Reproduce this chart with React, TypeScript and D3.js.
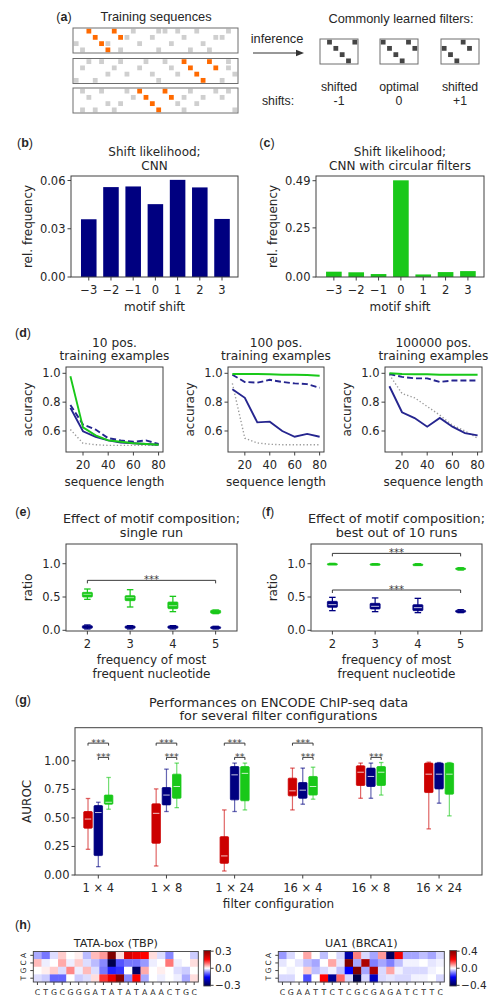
import React from "react";
import * as d3 from "d3";

// ---------------- DATA ----------------
// (a) illustration
const motifOffsets: [number, number][] = [[0, 0], [1, 1], [2, 2], [3, 3], [0, 4], [1, 5]];
const motifStarts = [2, 17, 10];
const seq1Background: [number, number][] = [[0, 9], [0, 13], [0, 14], [0, 16], [0, 19], [0, 24], [1, 8], [1, 12], [1, 17], [1, 22], [1, 23], [2, 0], [2, 5], [2, 10], [2, 15], [2, 20], [3, 1], [3, 7], [3, 13], [3, 18], [3, 21]];
const seq2Background: [number, number][] = [[0, 2], [0, 4], [0, 7], [0, 11], [0, 14], [0, 24], [1, 1], [1, 6], [1, 10], [1, 15], [1, 24], [2, 5], [2, 8], [2, 12], [2, 16], [2, 25], [3, 0], [3, 3], [3, 13], [3, 23]];
const seq3Background: [number, number][] = [[0, 1], [0, 4], [0, 8], [0, 18], [0, 22], [0, 24], [1, 2], [1, 9], [1, 17], [1, 20], [1, 23], [2, 5], [2, 7], [2, 16], [2, 19], [3, 1], [3, 3], [3, 6], [3, 17], [3, 25]];
const filterShifts = [-1, 0, 1];
const filterNames = ["shifted", "optimal", "shifted"];
const shiftLabels = ["-1", "0", "+1"];

// (b), (c)
const motifShifts = [-3, -2, -1, 0, 1, 2, 3];
const shiftFreqCnn = [0.0359, 0.0559, 0.0563, 0.0453, 0.0604, 0.0557, 0.0361];
const shiftFreqCircular = [0.027, 0.024, 0.015, 0.492, 0.013, 0.025, 0.03];
const freqTicksB = [0, 0.03, 0.06];
const freqTicksC = [0, 0.25, 0.49];

// (d)
const seqLengths = [10, 20, 30, 40, 50, 60, 70, 80];
const lengthTicks = [20, 40, 60, 80];
const accuracyTicks = [0.6, 0.8, 1.0];
const pos10Circular = [0.98, 0.625, 0.57, 0.535, 0.525, 0.515, 0.51, 0.505];
const pos10Cnn = [0.76, 0.598, 0.56, 0.535, 0.52, 0.515, 0.51, 0.505];
const pos10CnnDashed = [0.78, 0.645, 0.61, 0.55, 0.535, 0.525, 0.535, 0.51];
const pos10Dotted = [0.61, 0.515, 0.505, 0.5, 0.5, 0.5, 0.5, 0.5];
const pos100Circular = [0.995, 0.995, 0.995, 0.993, 0.99, 0.99, 0.988, 0.983];
const pos100Cnn = [0.89, 0.83, 0.66, 0.665, 0.6, 0.56, 0.58, 0.56];
const pos100CnnDashed = [0.99, 0.94, 0.935, 0.955, 0.94, 0.93, 0.925, 0.9];
const pos100Dotted = [0.93, 0.55, 0.517, 0.508, 0.505, 0.505, 0.505, 0.505];
const pos100kCircular = [1.0, 0.995, 0.993, 0.993, 0.99, 0.99, 0.99, 0.99];
const pos100kCnn = [0.91, 0.73, 0.69, 0.63, 0.69, 0.63, 0.585, 0.57];
const pos100kCnnDashed = [0.995, 0.975, 0.965, 0.965, 0.94, 0.95, 0.95, 0.95];
const pos100kDotted = [0.99, 0.86, 0.83, 0.77, 0.71, 0.64, 0.6, 0.55];

// (e), (f)  [whiskerLow, q1, median, q3, whiskerHigh]
const compositionFreqs = [2, 3, 4, 5];
const ratioTicks = [0, 0.5, 1.0];
const singleRunCircular = [[0.465, 0.5, 0.54, 0.57, 0.62], [0.35, 0.445, 0.49, 0.52, 0.61], [0.28, 0.325, 0.37, 0.425, 0.51], [0.25, 0.255, 0.275, 0.3, 0.305]];
const singleRunCnn = [[0.02, 0.03, 0.05, 0.07, 0.08], [0.02, 0.03, 0.045, 0.065, 0.07], [0.02, 0.03, 0.045, 0.065, 0.07], [0.02, 0.025, 0.04, 0.055, 0.06]];
const bestRunCircular = [[0.995, 0.997, 1.0, 1.003, 1.005], [0.985, 0.99, 0.995, 1.0, 1.0], [0.975, 0.98, 0.988, 0.995, 1.0], [0.905, 0.912, 0.922, 0.935, 0.94]];
const bestRunCnn = [[0.295, 0.345, 0.385, 0.435, 0.495], [0.28, 0.32, 0.36, 0.405, 0.486], [0.265, 0.295, 0.34, 0.385, 0.48], [0.265, 0.27, 0.285, 0.3, 0.31]];

// (g)
const filterConfigs = ["1 × 4", "1 × 8", "1 × 24", "16 × 4", "16 × 8", "16 × 24"];
const aurocTicks = [0, 0.25, 0.5, 0.75, 1.0];
const aurocRed = [[0.225, 0.41, 0.49, 0.556, 0.67], [0.079, 0.278, 0.54, 0.623, 0.754], [0.035, 0.102, 0.167, 0.336, 0.57], [0.57, 0.693, 0.737, 0.848, 0.936], [0.672, 0.784, 0.9, 0.956, 0.98], [0.404, 0.722, 0.883, 0.98, 0.988]];
const aurocBlue = [[0.073, 0.17, 0.547, 0.608, 0.637], [0.556, 0.614, 0.7, 0.766, 0.927], [0.556, 0.658, 0.877, 0.95, 0.98], [0.62, 0.672, 0.743, 0.81, 0.936], [0.672, 0.775, 0.863, 0.936, 0.98], [0.629, 0.754, 0.883, 0.98, 0.985]];
const aurocGreen = [[0.576, 0.62, 0.637, 0.7, 0.854], [0.59, 0.672, 0.775, 0.883, 0.98], [0.57, 0.65, 0.89, 0.95, 0.98], [0.664, 0.7, 0.775, 0.863, 0.944], [0.7, 0.784, 0.9, 0.95, 0.985], [0.518, 0.708, 0.883, 0.98, 0.985]];
const sigRedGreen = ["***", "***", "***", "***", "", ""];
const sigBlueGreen = ["***", "***", "**", "***", "***", ""];

// (h)
const nucleotides = ["A", "C", "G", "T"];
const tataSequence = "CTGCGGGATATATAAACTGC".split("");
const tataA = [-0.05, -0.08, -0.02, 0.03, 0.0, 0.01, -0.04, 0.04, 0.06, 0.3, 0.02, 0.2, 0.17, 0.15, 0.02, -0.02, -0.07, 0.0, 0.0, -0.03];
const tataC = [0.04, -0.01, 0.0, 0.05, -0.01, 0.03, -0.02, -0.04, -0.07, -0.3, -0.1, -0.08, -0.08, -0.06, -0.01, 0.0, 0.08, -0.01, 0.0, 0.02];
const tataG = [0.0, 0.01, 0.03, -0.02, 0.07, -0.01, 0.04, -0.02, -0.08, -0.13, -0.12, 0.0, -0.28, 0.05, 0.0, 0.01, 0.0, -0.02, -0.03, 0.0];
const tataT = [-0.02, -0.03, -0.09, -0.09, 0.0, -0.03, -0.02, 0.02, 0.12, 0.17, 0.29, -0.07, 0.15, -0.05, 0.0, -0.01, 0.0, -0.01, -0.05, 0.02];
const ua1Sequence = "CGAATTCTCGCGAGATCTTC".split("");
const ua1A = [-0.08, -0.03, 0.0, 0.07, 0.0, -0.05, 0.0, -0.03, -0.3, 0.1, -0.03, -0.07, 0.08, -0.38, 0.22, -0.07, -0.07, -0.05, -0.07, -0.03];
const ua1C = [-0.02, 0.0, -0.02, -0.05, -0.07, 0.0, 0.07, -0.02, 0.4, -0.07, 0.33, -0.1, -0.07, -0.1, -0.05, -0.01, -0.01, 0.0, -0.02, -0.01];
const ua1G = [0.0, -0.01, 0.0, 0.04, -0.05, -0.03, -0.01, -0.05, -0.2, 0.4, -0.07, 0.33, -0.03, 0.07, -0.01, -0.03, -0.03, -0.03, -0.01, 0.0];
const ua1T = [-0.03, -0.03, 0.0, -0.14, 0.0, 0.2, -0.32, 0.12, -0.03, -0.4, -0.03, -0.27, -0.03, -0.02, -0.03, -0.03, -0.01, -0.01, 0.0, -0.03];
const tataCbTicks = [-0.3, 0.0, 0.3];
const ua1CbTicks = [-0.4, 0.0, 0.4];

// ---------------- STYLE ----------------
const FONT = "'DejaVu Sans', sans-serif";
const FONT_A = "'Liberation Sans', Arial, sans-serif";
const TXT = "#262626";
const SPINE = "#404040";
const NAVY = "#000080";
const LINE_BLUE = "#25258f";
const GREEN = "#19c819";
const RED = "#cc0000";
const ORANGE = "#ff6a00";
const TICK_FS = 11.5;
const LABEL_FS = 12;

type Sc = (v: number) => number;

function Frame({ x0, x1, y0, y1 }: { x0: number; x1: number; y0: number; y1: number }) {
  return <rect x={x0} y={y0} width={x1 - x0} height={y1 - y0} fill="none" stroke={SPINE} strokeWidth={1} />;
}

function YTicks({ scale, ticks, x, fmt, fs = TICK_FS }: { scale: Sc; ticks: number[]; x: number; fmt: (v: number) => string; fs?: number }) {
  return (
    <g>
      {ticks.map((t) => (
        <g key={t}>
          <line x1={x - 3.5} x2={x} y1={scale(t)} y2={scale(t)} stroke={SPINE} />
          <text x={x - 5.5} y={scale(t)} textAnchor="end" dominantBaseline="central" fontSize={fs} fill={TXT}>{fmt(t)}</text>
        </g>
      ))}
    </g>
  );
}

function XTicks({ scale, ticks, y, labels, fs = TICK_FS }: { scale: Sc; ticks: number[]; y: number; labels: string[]; fs?: number }) {
  return (
    <g>
      {ticks.map((t, i) => (
        <g key={i}>
          <line x1={scale(t)} x2={scale(t)} y1={y} y2={y + 3.5} stroke={SPINE} />
          <text x={scale(t)} y={y + 13} textAnchor="middle" dominantBaseline="central" fontSize={fs} fill={TXT}>{labels[i]}</text>
        </g>
      ))}
    </g>
  );
}

function YLabel({ x, y, text, fs = LABEL_FS }: { x: number; y: number; text: string; fs?: number }) {
  return (
    <text transform={`translate(${x},${y}) rotate(-90)`} textAnchor="middle" dominantBaseline="central" fontSize={fs} fill={TXT}>{text}</text>
  );
}

function Label({ x, y, text, fs = LABEL_FS, anchor = "middle", family, weight }: { x: number; y: number; text: string; fs?: number; anchor?: string; family?: string; weight?: string }) {
  return (
    <text x={x} y={y} textAnchor={anchor as any} dominantBaseline="central" fontSize={fs} fill={TXT} fontFamily={family} fontWeight={weight}>{text}</text>
  );
}

function PanelTag({ x, y, t }: { x: number; y: number; t: string }) {
  return (
    <text x={x} y={y} textAnchor="middle" dominantBaseline="central" fontSize={12.5} fill={TXT} fontFamily={FONT_A}>
      (<tspan fontWeight="bold">{t}</tspan>)
    </text>
  );
}

// ---------------- PANEL A ----------------
function PanelA() {
  const colX = d3.scaleBand<number>().domain(d3.range(26)).range([73, 238]);
  const rowY = d3.scaleBand<number>().domain(d3.range(4)).range([0, 25]);
  const boxTops = [28, 58.5, 88];
  const backgrounds = [seq1Background, seq2Background, seq3Background];
  const sq = 4.8;
  const filterX0 = [320, 380, 441];
  const fx = d3.scaleBand<number>().domain(d3.range(6)).range([0, 38]);
  const fsA = 12.3;
  return (
    <g fontFamily={FONT_A}>
      <PanelTag x={64} y={16.5} t="a" />
      <Label x={156} y={16.5} text="Training sequences" fs={12.8} family={FONT_A} />
      {boxTops.map((top, b) => (
        <g key={b}>
          {backgrounds[b].map(([r, c], i) => (
            <rect key={i} x={(colX(c) as number) + (colX.bandwidth() - sq) / 2} y={top + (rowY(r) as number) + (rowY.bandwidth() - sq) / 2} width={sq} height={sq} fill="#cfcfcf" />
          ))}
          {motifOffsets.map(([r, c], i) => (
            <rect key={"m" + i} x={(colX(motifStarts[b] + c) as number) + (colX.bandwidth() - sq) / 2} y={top + (rowY(r) as number) + (rowY.bandwidth() - sq) / 2} width={sq} height={sq} fill={ORANGE} />
          ))}
          <rect x={73} y={top} width={165} height={25} fill="none" stroke="#6e6e6e" strokeWidth={1} />
        </g>
      ))}
      <Label x={277} y={38.5} text="inference" fs={12.8} family={FONT_A} />
      <line x1={253} x2={298} y1={53} y2={53} stroke="#333" strokeWidth={1.2} />
      <path d="M 304 53 L 296 49.8 L 296 56.2 Z" fill="#333" />
      <Label x={401} y={18} text="Commonly learned filters:" fs={12.8} family={FONT_A} />
      {filterShifts.map((s, k) => {
        const x0 = filterX0[k];
        return (
          <g key={k}>
            {motifOffsets
              .map(([r, c]) => [r, c - s] as [number, number])
              .filter(([, c]) => c >= 0 && c < 6)
              .map(([r, c], i) => (
                <rect key={i} x={x0 + (fx(c) as number) + (fx.bandwidth() - sq) / 2} y={39 + (rowY(r) as number) + (rowY.bandwidth() - sq) / 2} width={sq} height={sq} fill="#454545" />
              ))}
            <rect x={x0} y={39} width={38} height={25} fill="none" stroke="#6e6e6e" strokeWidth={1} />
            <Label x={x0 + 19} y={86.8} text={filterNames[k]} fs={fsA} family={FONT_A} />
            <Label x={x0 + 19} y={100.6} text={shiftLabels[k]} fs={fsA} family={FONT_A} />
          </g>
        );
      })}
      <Label x={278} y={100.6} text="shifts:" fs={fsA} family={FONT_A} />
    </g>
  );
}

// ---------------- PANEL B / C ----------------
function BarPanel({ x0, x1, values, yMax, ticks, color, title2, tag, tagX }: { x0: number; x1: number; values: number[]; yMax: number; ticks: number[]; color: string; title2: string; tag: string; tagX: number }) {
  const y0 = 176, y1 = 277;
  const x = d3.scaleLinear().domain([-3.8, 3.72]).range([x0, x1]);
  const y = d3.scaleLinear().domain([0, yMax]).range([y1, y0]);
  const bw = x(0.35) - x(-0.35);
  const cx = (x0 + x1) / 2;
  return (
    <g>
      <PanelTag x={tagX} y={143} t={tag} />
      <Label x={cx} y={152} text="Shift likelihood;" />
      <Label x={cx} y={165.5} text={title2} />
      {motifShifts.map((s, i) => (
        <rect key={s} x={x(s) - bw / 2} y={y(values[i])} width={bw} height={y1 - y(values[i])} fill={color} />
      ))}
      <Frame x0={x0} x1={x1} y0={y0} y1={y1} />
      <YTicks scale={y} ticks={ticks} x={x0} fmt={d3.format(".2f")} />
      <XTicks scale={x} ticks={motifShifts} y={y1} labels={motifShifts.map(d3.format("d"))} />
      <Label x={cx} y={307} text="motif shift" />
      <YLabel x={x0 - 43} y={(y0 + y1) / 2} text="rel. frequency" />
    </g>
  );
}

// ---------------- PANEL D ----------------
function LinePanel({ x0, x1, title1, series }: { x0: number; x1: number; title1: string; series: number[][] }) {
  const y0 = 367, y1 = 452;
  const x = d3.scaleLinear().domain([6.5, 83.5]).range([x0, x1]);
  const y = d3.scaleLinear().domain([0.4544, 1.0437]).range([y1, y0]);
  const line = d3.line<number>().x((_, i) => x(seqLengths[i])).y((v) => y(v));
  const cx = (x0 + x1) / 2;
  const [circ, cnn, dashed, dotted] = series;
  return (
    <g>
      <Label x={cx} y={342.5} text={title1} fs={12.2} />
      <Label x={cx} y={356.2} text="training examples" fs={12.2} />
      <path d={line(dotted) || ""} fill="none" stroke="#9a9a9a" strokeWidth={1.4} strokeDasharray="1.3,2.2" />
      <path d={line(cnn) || ""} fill="none" stroke={LINE_BLUE} strokeWidth={1.9} />
      <path d={line(dashed) || ""} fill="none" stroke={LINE_BLUE} strokeWidth={1.9} strokeDasharray="6,3" />
      <path d={line(circ) || ""} fill="none" stroke={GREEN} strokeWidth={1.9} />
      <Frame x0={x0} x1={x1} y0={y0} y1={y1} />
      <YTicks scale={y} ticks={accuracyTicks} x={x0} fmt={d3.format(".1f")} />
      <XTicks scale={x} ticks={lengthTicks} y={y1} labels={lengthTicks.map(String)} />
      <Label x={cx} y={482} text="sequence length" />
      <YLabel x={x0 - 38} y={(y0 + y1) / 2} text="accuracy" />
    </g>
  );
}

// ---------------- BOX GLYPH ----------------
function BoxGlyph({ cx, w, capW, stats, y, color, whiskerOpacity = 1, medianColor = "#ffffff" }: { cx: number; w: number; capW: number; stats: number[]; y: Sc; color: string; whiskerOpacity?: number; medianColor?: string }) {
  const [lo, q1, med, q3, hi] = stats;
  const top = y(q3);
  const h = Math.max(y(q1) - top, 1.6);
  return (
    <g>
      <line x1={cx} x2={cx} y1={y(hi)} y2={y(lo)} stroke={color} strokeWidth={1.2} strokeOpacity={whiskerOpacity} />
      <line x1={cx - capW / 2} x2={cx + capW / 2} y1={y(hi)} y2={y(hi)} stroke={color} strokeWidth={1.3} strokeOpacity={whiskerOpacity} />
      <line x1={cx - capW / 2} x2={cx + capW / 2} y1={y(lo)} y2={y(lo)} stroke={color} strokeWidth={1.3} strokeOpacity={whiskerOpacity} />
      <rect x={cx - w / 2} y={top} width={w} height={h} fill={color} stroke={color} strokeWidth={0.8} rx={0.8} />
      {h > 4 && <line x1={cx - w / 2 + 1} x2={cx + w / 2 - 1} y1={y(med)} y2={y(med)} stroke={medianColor} strokeWidth={0.9} strokeOpacity={0.85} />}
    </g>
  );
}

function Bracket({ xa, xb, yl, text, drop = 3, fs = 10 }: { xa: number; xb: number; yl: number; text: string; drop?: number; fs?: number }) {
  return (
    <g>
      <path d={`M ${xa} ${yl + drop} L ${xa} ${yl} L ${xb} ${yl} L ${xb} ${yl + drop}`} fill="none" stroke="#3a3a3a" strokeWidth={1} />
      <text x={(xa + xb) / 2} y={yl + 2.5} textAnchor="middle" fontSize={fs} fill="#3a3a3a">{text}</text>
    </g>
  );
}

// ---------------- PANEL E / F ----------------
function RatioPanel({ x0, x1, tag, tagX, title2, green, blue, brackets }: { x0: number; x1: number; tag: string; tagX: number; title2: string; green: number[][]; blue: number[][]; brackets: number[] }) {
  const y0 = 544, y1 = 631;
  const x = d3.scaleLinear().domain([1.5, 5.5]).range([x0, x1]);
  const y = d3.scaleLinear().domain([-0.0105, 1.296]).range([y1, y0]);
  const cx = (x0 + x1) / 2;
  return (
    <g>
      <PanelTag x={tagX} y={512} t={tag} />
      <Label x={cx} y={518.5} text="Effect of motif composition;" fs={12.8} />
      <Label x={cx} y={532} text={title2} fs={12.8} />
      {compositionFreqs.map((f, i) => (
        <g key={f}>
          <BoxGlyph cx={x(f)} w={10} capW={6.5} stats={blue[i]} y={y} color={NAVY} />
          <BoxGlyph cx={x(f)} w={10} capW={6.5} stats={green[i]} y={y} color={GREEN} medianColor="#b8f0b8" />
        </g>
      ))}
      {brackets.map((b, i) => (
        <Bracket key={i} xa={x(2)} xb={x(5)} yl={y(b)} text="***" />
      ))}
      <Frame x0={x0} x1={x1} y0={y0} y1={y1} />
      <YTicks scale={y} ticks={ratioTicks} x={x0} fmt={d3.format(".1f")} />
      <XTicks scale={x} ticks={compositionFreqs} y={y1} labels={compositionFreqs.map(String)} />
      <Label x={cx} y={660} text="frequency of most" />
      <Label x={cx} y={674} text="frequent nucleotide" />
      <YLabel x={x0 - 38} y={(y0 + y1) / 2} text="ratio" />
    </g>
  );
}

// ---------------- PANEL G ----------------
function AurocPanel() {
  const x0 = 75, x1 = 482, y0 = 727.7, y1 = 875;
  const x = d3.scaleLinear().domain([-0.342, 5.63]).range([x0, x1]);
  const y = d3.scaleLinear().domain([0, 1.29]).range([y1, y0]);
  const off = 10.3;
  const cx = (x0 + x1) / 2;
  return (
    <g>
      <PanelTag x={23} y={700} t="g" />
      <Label x={cx} y={702} text="Performances on ENCODE ChIP-seq data" fs={12.8} />
      <Label x={cx} y={715.5} text="for several filter configurations" fs={12.8} />
      {filterConfigs.map((c, i) => (
        <g key={c}>
          <BoxGlyph cx={x(i) - off} w={8.5} capW={4.5} stats={aurocRed[i]} y={y} color={RED} whiskerOpacity={0.6} />
          <BoxGlyph cx={x(i)} w={8.5} capW={4.5} stats={aurocBlue[i]} y={y} color={NAVY} whiskerOpacity={0.6} />
          <BoxGlyph cx={x(i) + off} w={8.5} capW={4.5} stats={aurocGreen[i]} y={y} color={GREEN} whiskerOpacity={0.6} />
          {sigRedGreen[i] && <Bracket xa={x(i) - off} xb={x(i) + off} yl={y(1.155)} text={sigRedGreen[i]} drop={2.5} fs={9.5} />}
          {sigBlueGreen[i] && <Bracket xa={x(i)} xb={x(i) + off} yl={y(1.03)} text={sigBlueGreen[i]} drop={2.5} fs={9.5} />}
        </g>
      ))}
      <Frame x0={x0} x1={x1} y0={y0} y1={y1} />
      <YTicks scale={y} ticks={aurocTicks} x={x0} fmt={d3.format(".2f")} />
      <XTicks scale={x} ticks={d3.range(6)} y={y1} labels={filterConfigs} />
      <Label x={cx} y={904} text="filter configuration" />
      <YLabel x={27} y={(y0 + y1) / 2} text="AUROC" />
    </g>
  );
}

// ---------------- PANEL H ----------------
function seismic(vmax: number) {
  return d3
    .scaleLinear<string>()
    .domain([-vmax, -vmax / 2, 0, vmax / 2, vmax])
    .range(["#00004d", "#0000ff", "#ffffff", "#ff0000", "#800000"])
    .clamp(true);
}

function Heatmap({ x0, x1, seq, rows, vmax, title, cbTicks, gid }: { x0: number; x1: number; seq: string[]; rows: number[][]; vmax: number; title: string; cbTicks: number[]; gid: string }) {
  const y0 = 951.5, y1 = 982;
  const xs = d3.scaleBand<number>().domain(d3.range(seq.length)).range([x0, x1]);
  const ys = d3.scaleBand<string>().domain(nucleotides).range([y0, y1]);
  const color = seismic(vmax);
  const cbX = x1 + 5.5, cbW = 6.8, cbY0 = 950.5, cbY1 = 986;
  const cbMax = vmax * 1.04;
  const cbScale = d3.scaleLinear().domain([-cbMax, cbMax]).range([cbY1, cbY0]);
  const stops = d3.range(0, 1.0001, 0.125);
  return (
    <g>
      <defs>
        <linearGradient id={gid} x1="0" y1="1" x2="0" y2="0">
          {stops.map((s) => (
            <stop key={s} offset={s} stopColor={color(-cbMax + 2 * cbMax * s)} />
          ))}
        </linearGradient>
      </defs>
      <Label x={(x0 + x1) / 2} y={943} text={title} fs={11.2} />
      {rows.map((row, r) =>
        row.map((v, c) => (
          <rect key={r + "-" + c} x={xs(c)} y={ys(nucleotides[r])} width={xs.bandwidth() + 0.3} height={ys.bandwidth() + 0.3} fill={color(v)} />
        ))
      )}
      <rect x={x0} y={y0} width={x1 - x0} height={y1 - y0} fill="none" stroke={SPINE} strokeWidth={0.9} />
      {nucleotides.map((n) => {
        const yy = (ys(n) as number) + ys.bandwidth() / 2;
        return (
          <g key={n}>
            <line x1={x0 - 3} x2={x0} y1={yy} y2={yy} stroke={SPINE} />
            <text transform={`translate(${x0 - 9.5},${yy}) rotate(-90)`} textAnchor="middle" dominantBaseline="central" fontSize={7.5} fill={TXT}>{n}</text>
          </g>
        );
      })}
      {seq.map((s, c) => {
        const xx = (xs(c) as number) + xs.bandwidth() / 2;
        return (
          <g key={c}>
            <line x1={xx} x2={xx} y1={y1} y2={y1 + 3} stroke={SPINE} />
            <text x={xx} y={992.5} textAnchor="middle" dominantBaseline="central" fontSize={7.8} fill={TXT}>{s}</text>
          </g>
        );
      })}
      <rect x={cbX} y={cbY0} width={cbW} height={cbY1 - cbY0} fill={`url(#${gid})`} stroke={SPINE} strokeWidth={0.8} />
      {cbTicks.map((t) => (
        <g key={t}>
          <line x1={cbX + cbW} x2={cbX + cbW + 3} y1={cbScale(t)} y2={cbScale(t)} stroke={SPINE} />
          <text x={cbX + cbW + 4.5} y={cbScale(t)} dominantBaseline="central" fontSize={10.5} fill={TXT}>{d3.format(".1f")(t)}</text>
        </g>
      ))}
    </g>
  );
}

export default function App() {
  return (
    <svg width={495} height={1002} style={{ position: "absolute", left: 0, top: 0 }} fontFamily={FONT}>
      <rect width={495} height={1002} fill="#ffffff" />
      <PanelA />
      <BarPanel x0={71} x1={238} values={shiftFreqCnn} yMax={0.0628} ticks={freqTicksB} color={NAVY} title2="CNN" tag="b" tagX={25} />
      <BarPanel x0={316} x1={484} values={shiftFreqCircular} yMax={0.514} ticks={freqTicksC} color={GREEN} title2="CNN with circular filters" tag="c" tagX={267} />
      <PanelTag x={23} y={333} t="d" />
      <LinePanel x0={66} x1={163} title1="10 pos." series={[pos10Circular, pos10Cnn, pos10CnnDashed, pos10Dotted]} />
      <LinePanel x0={228} x1={324} title1="100 pos." series={[pos100Circular, pos100Cnn, pos100CnnDashed, pos100Dotted]} />
      <LinePanel x0={385} x1={482} title1="100000 pos." series={[pos100kCircular, pos100kCnn, pos100kCnnDashed, pos100kDotted]} />
      <RatioPanel x0={66} x1={237} tag="e" tagX={23} title2="single run" green={singleRunCircular} blue={singleRunCnn} brackets={[0.75]} />
      <RatioPanel x0={311} x1={482} tag="f" tagX={268} title2="best out of 10 runs" green={bestRunCircular} blue={bestRunCnn} brackets={[1.155, 0.605]} />
      <AurocPanel />
      <PanelTag x={23} y={925} t="h" />
      <Heatmap x0={33.3} x1={198.3} seq={tataSequence} rows={[tataA, tataC, tataG, tataT]} vmax={0.3} title="TATA-box (TBP)" cbTicks={tataCbTicks} gid="cbTata" />
      <Heatmap x0={278.3} x1={444.3} seq={ua1Sequence} rows={[ua1A, ua1C, ua1G, ua1T]} vmax={0.4} title="UA1 (BRCA1)" cbTicks={ua1CbTicks} gid="cbUa1" />
    </svg>
  );
}
